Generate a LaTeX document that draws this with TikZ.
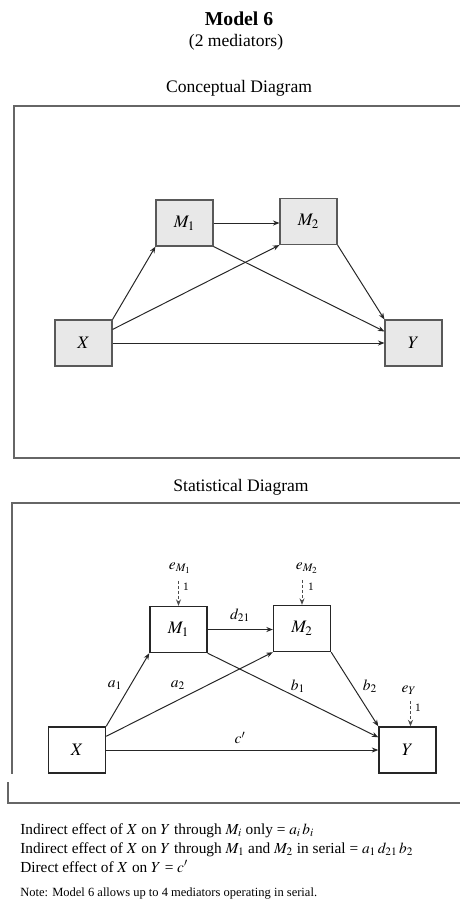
\documentclass[tikz,border=0pt]{standalone}
\usepackage{mathptmx}
\usepackage{fontspec}
\setmainfont{Liberation Serif}
\usetikzlibrary{arrows.meta,positioning,calc}
\tikzset{
  cbox/.style    = {shape=rectangle, draw=black!65, fill=black!9,
                    line width=0.8pt, minimum width=1.425cm,
                    minimum height=1.15cm, font=\fontsize{12.5}{14}\selectfont},
  sbox/.style    = {cbox, draw=black!85, fill=white, line width=1pt},
  panel/.style   = {draw=black!60, line width=0.8pt},
  effect/.style  = {-{Stealth[length=4.6pt, width=3.6pt]}, draw=black!85, line width=0.7pt},
  err/.style     = {effect, draw=black!70, dash pattern=on 2pt off 1.6pt},
  coef/.style    = {font=\fontsize{11}{13}\selectfont, inner sep=0pt},
  fixed/.style   = {font=\fontsize{8}{9}\selectfont, inner sep=0pt},
  heading/.style = {font=\fontsize{12.5}{15}\selectfont}
}

\begin{document}
\begin{tikzpicture}[x=0.025cm, y=-0.025cm]
  \useasboundingbox (0,0) rectangle (460,904);
  \node [font=\bfseries\fontsize{14}{16}\selectfont] (title) at (239,19) {Model 6};
  \node [heading] (subtitle) at (236,42) {(2 mediators)};
  \node [heading] (chead) at (239,88) {Conceptual Diagram};
  \draw [panel] (460,106) -- (14,106) -- (14,458) -- (460,458);
  \node [cbox] (cM1) at (184.5,223) {$M_1$};
  \node [cbox] (cM2) at (308.5,221.5) {$M_2$};
  \node [cbox] (cX) at (83.5,343) {$X$};
  \node [cbox] (cY) at (413.5,343) {$Y$};
  \draw [effect] (cX.north east) -- (cM1.south west);
  \draw [effect] ($(cX.north east)+(0,10)$) -- (cM2.south west);
  \draw [effect] (cM1.east) -- (cM1.east -| cM2.west);
  \draw [effect] (cM1.south east) -- ($(cY.north west)+(0,12)$);
  \draw [effect] (cM2.south east) -- (cY.north west);
  \draw [effect] (cX) -- (cY);

  \node [heading] (shead) at (241,487) {Statistical Diagram};
  \draw [panel] (460,503) -- (12,503) -- (12,774);
  \draw [panel] (8,782) -- (8,803) -- (460,803);
  \node [sbox] (sM1) at (178.5,629.5) {$M_1$};
  \node [sbox] (sM2) at (302,628.5) {$M_2$};
  \node [sbox] (sX) at (77,750) {$X$};
  \node [sbox] (sY) at (407.5,750) {$Y$};
  \node [coef] (eM1) at (180,568) {$e_{M_1}$};
  \node [coef] (eM2) at (307,568) {$e_{M_2}$};
  \node [coef] (eY) at (409,690) {$e_Y$};
  \draw [err] ($(sM1.north)+(0,-25)$) -- (sM1.north);
  \draw [err] ($(sM2.north)+(0,-25)$) -- (sM2.north);
  \draw [err] ($(sY.north)+(3,-25)$) -- ($(sY.north)+(3,0)$);
  \node [fixed] (oneM1) at (186,587) {1};
  \node [fixed] (oneM2) at (311,587) {1};
  \node [fixed] (oneY) at (418,708) {1};
  \draw [effect] (sX.north east) -- (sM1.south west);
  \draw [effect] ($(sX.north east)+(0,10)$) -- (sM2.south west);
  \draw [effect] (sM1.east) -- (sM1.east -| sM2.west);
  \draw [effect] (sM1.south east) -- ($(sY.north west)+(0,11)$);
  \draw [effect] (sM2.south east) -- (sY.north west);
  \draw [effect] (sX) -- (sY);
  \node [coef] (a1) at (115,685) {$a_1$};
  \node [coef] (a2) at (178,685) {$a_2$};
  \node [coef] (b1) at (298,686) {$b_1$};
  \node [coef] (b2) at (370,686) {$b_2$};
  \node [coef] (d21) at (240,615) {$d_{21}$};
  \node [coef] (cp) at (240,738) {$c'$};

  \node [anchor=west, align=left, inner sep=0pt,
         font=\fontsize{10.9}{13.5}\selectfont] (effects) at (20,848)
    {Indirect effect of $X$ on $Y$ through $M_i$ only = $a_i\,b_i$\\
     Indirect effect of $X$ on $Y$ through $M_1$ and $M_2$ in serial = $a_1\,d_{21}\,b_2$\\
     Direct effect of $X$ on $Y$ = $c'$};
  \node [anchor=west, inner sep=0pt, font=\fontsize{8.9}{10}\selectfont] (note) at (20,893)
    {Note: Model 6 allows up to 4 mediators operating in serial.};
\end{tikzpicture}
\end{document}
